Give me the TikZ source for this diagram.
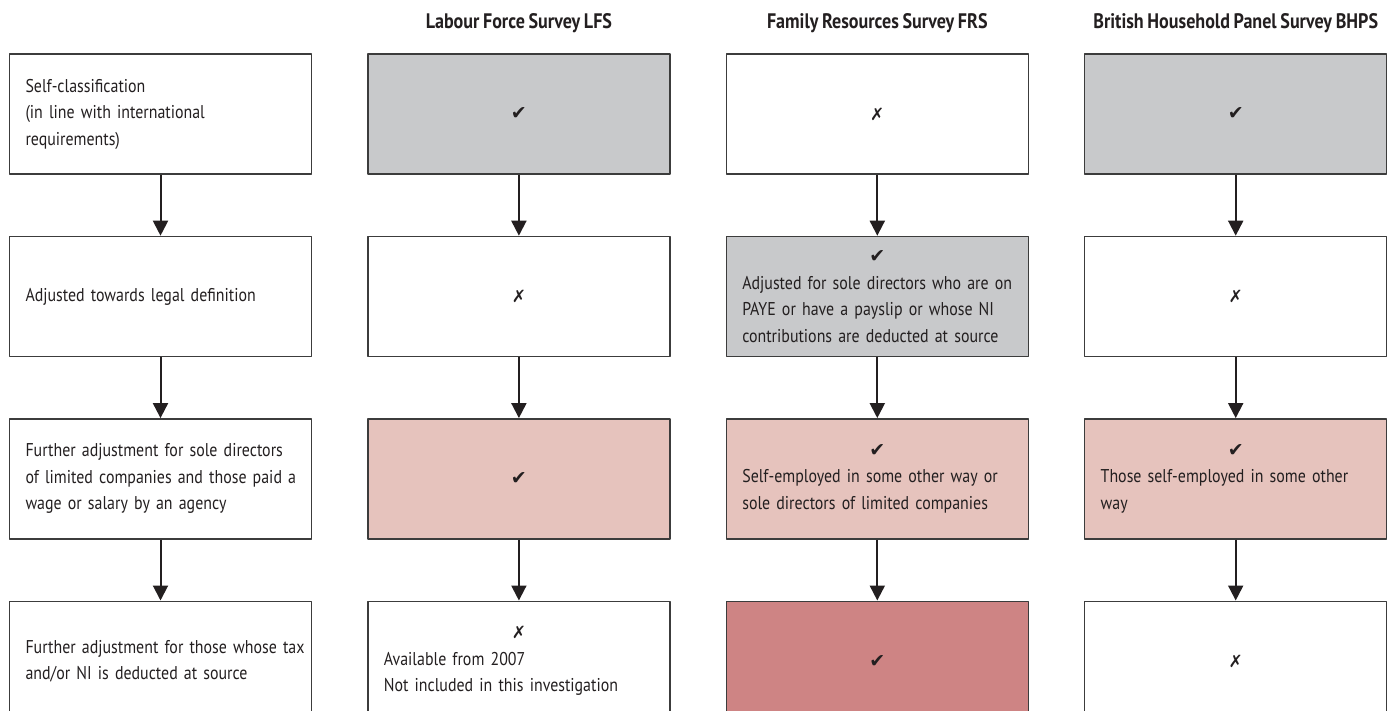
\documentclass[tikz,border=0pt]{standalone}
\usepackage{fontspec}
\setmainfont{PT Sans}[FakeStretch=0.86,WordSpace=0.8]
\newfontfamily\symfont{DejaVu Sans}
\usetikzlibrary{arrows.meta,positioning}
\definecolor{cellgray}{RGB}{200,201,203}
\definecolor{cellpink}{RGB}{230,195,189}
\definecolor{celldark}{RGB}{206,132,132}
\definecolor{edgegray}{RGB}{60,60,60}
\definecolor{inkgray}{RGB}{35,31,32}
\newcommand{\cmark}{{\symfont\fontsize{19}{19}\selectfont ✔}}
\newcommand{\xmark}{{\symfont\fontsize{17}{17}\selectfont ✗}}
\newcommand{\midmark}[1]{\makebox[\dimexpr\hsize-2\leftskip\relax]{#1}}
\begin{document}
\begin{tikzpicture}[x=1pt,y=-1pt,font=\fontsize{18.5}{26.5}\selectfont,line join=round,
	cell/.style={draw=edgegray,line width=1.4pt,minimum width=302pt,minimum height=120pt,
		text width=300pt,inner xsep=1pt,align=left,text=inkgray,
		execute at begin node={\leftskip=15pt}},
	head/.style={font=\fontsize{21}{24}\selectfont\bfseries,text=inkgray},
	flow/.style={draw=inkgray,line width=2pt,-{Triangle[width=15pt,length=15pt]}},
	node distance=61pt and 55pt]
	\useasboundingbox (0,0) rectangle (1389,711);
	%\draw[help lines,step=50] (0,0) grid (1389,711);
	% left column: steps
	\node[cell] (cls1) at (160.5,114) {Self-classification\\(in line with international\\requirements)};
	\node[cell,below=of cls1] (cls2) {Adjusted towards legal definition};
	\node[cell,below=of cls2] (cls3) {Further adjustment for sole directors\\of limited companies and those paid a\\wage or salary by an agency};
	\node[cell,below=of cls3] (cls4) {Further adjustment for those whose tax\\and/or NI is deducted at source};
	% LFS
	\node[cell,fill=cellgray,right=of cls1] (lfs1) {\midmark{\cmark}};
	\node[cell,below=of lfs1] (lfs2) {\midmark{\xmark}};
	\node[cell,fill=cellpink,below=of lfs2] (lfs3) {\midmark{\cmark}};
	\node[cell,below=of lfs3] (lfs4) {\midmark{\xmark}\\Available from 2007\\Not included in this investigation};
	% FRS
	\node[cell,right=of lfs1] (frs1) {\midmark{\xmark}};
	\node[cell,fill=cellgray,below=of frs1] (frs2) {\midmark{\cmark}\\Adjusted for sole directors who are on\\PAYE or have a payslip or whose NI\\contributions are deducted at source};
	\node[cell,fill=cellpink,below=of frs2] (frs3) {\midmark{\cmark}\\Self-employed in some other way or\\sole directors of limited companies};
	\node[cell,fill=celldark,below=of frs3] (frs4) {\midmark{\cmark}};
	% BHPS
	\node[cell,fill=cellgray,right=of frs1] (bhps1) {\midmark{\cmark}};
	\node[cell,below=of bhps1] (bhps2) {\midmark{\xmark}};
	\node[cell,fill=cellpink,below=of bhps2] (bhps3) {\midmark{\cmark}\\Those self-employed in some other\\way};
	\node[cell,below=of bhps3] (bhps4) {\midmark{\xmark}};
	% headings
	\node[head] (lfsh) at (lfs1.north |- 0,23) {Labour Force Survey LFS};
	\node[head] (frsh) at (frs1.north |- 0,23) {Family Resources Survey FRS};
	\node[head] (bhpsh) at (bhps1.north |- 0,23) {British Household Panel Survey BHPS};
	% arrows
	\foreach \c in {cls,lfs,frs,bhps}{
		\draw[flow] (\c1) -- (\c2);
		\draw[flow] (\c2) -- (\c3);
		\draw[flow] (\c3) -- (\c4);
	}
\end{tikzpicture}
\end{document}
